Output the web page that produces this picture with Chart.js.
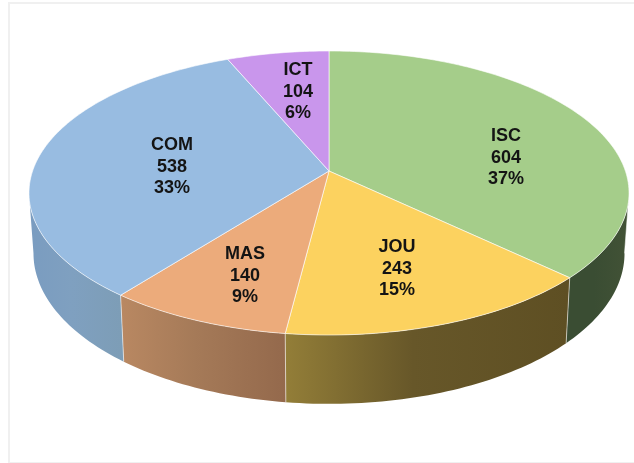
<!DOCTYPE html>
<html>
<head>
<meta charset="utf-8">
<title>Pie</title>
<script src="https://cdn.jsdelivr.net/npm/chart.js@4"></script>
<style>
    html, body { margin: 0; padding: 0; background: #fff; }
    #wrap { position: relative; width: 634px; height: 463px; overflow: hidden; }
    #frame { position: absolute; left: 8px; top: 2px; width: 640px; height: 458px; border: 2px solid #f0f0f0; box-sizing: content-box; }
    canvas { position: absolute; left: 0; top: 0; filter: blur(0.5px); }
</style>
</head>
<body>
<div id="wrap">
    <div id="frame"></div>
    <canvas id="pieChart" width="634" height="463"></canvas>
</div>
<script>
// Chart values
const categories = ['ISC', 'JOU', 'MAS', 'COM', 'ICT'];
const students = [604, 243, 140, 538, 104];

const topColors = ['#a5cd8a', '#fcd25f', '#ecab7b', '#98bce1', '#c996ec'];
const wallColors = [
    ['#3a4d33', '#3a4d33', '#425236'],
    ['#937e38', '#675729', '#5e4f23'],
    ['#b98862', '#a57a58', '#94694c'],
    ['#7a9cc0', '#7fa0c0', '#7d9db6'],
    ['#8a66a4', '#8a66a4', '#8a66a4']
];
// where each three line label sits
const labelSpots = [[506, 158], [397, 269], [245, 276], [172, 167], [298, 92]];

// Perspective of the tilted disc
const cx = 329, apexY = 171, tilt = -0.155, spanX = 296.4, spanY = 138.6;

function project(angle) {
    const u = Math.cos(angle), v = Math.sin(angle);
    const d = 1 + tilt * v;
    return { x: cx + spanX * u / d, y: apexY + spanY * v / d };
}

function lower(p) {
    return { x: cx + (p.x - cx) * 0.985, y: 230 + (p.y - apexY) * 1.06 };
}

// Samples along the rim between two angles
function rimPoints(start, end) {
    const steps = Math.max(2, Math.ceil((end - start) / 0.02));
    const pts = [];
    for (let i = 0; i <= steps; i++) {
        pts.push(project(start + (end - start) * i / steps));
    }
    return pts;
}

const disc3d = {
    id: 'disc3d',
    beforeDatasetDraw(chart) {
        const ctx = chart.ctx;
        const arcs = chart.getDatasetMeta(0).data;
        const frontStart = Math.asin(0.155), frontEnd = Math.PI - frontStart;

        // side walls first, the top face covers what is behind
        arcs.forEach((arc, i) => {
            const start = Math.max(arc.startAngle, frontStart);
            const end = Math.min(arc.endAngle, frontEnd);
            if (end <= start) return;
            const upper = rimPoints(start, end);
            const under = upper.map(lower);
            const xs = upper.concat(under).map(p => p.x);
            const left = Math.min(...xs), right = Math.max(...xs);
            const shade = ctx.createLinearGradient(left, 0, right, 0);
            shade.addColorStop(0, wallColors[i][0]);
            shade.addColorStop(0.45, wallColors[i][1]);
            shade.addColorStop(1, wallColors[i][2]);

            ctx.beginPath();
            upper.forEach((p, n) => n ? ctx.lineTo(p.x, p.y) : ctx.moveTo(p.x, p.y));
            under.reverse().forEach(p => ctx.lineTo(p.x, p.y));
            ctx.closePath();
            ctx.fillStyle = shade;
            ctx.fill();
            ctx.strokeStyle = 'rgba(255,255,255,0.55)';
            ctx.lineWidth = 1;
            ctx.beginPath();
            const a = upper[0], b = lower(a);
            ctx.moveTo(a.x, a.y);
            ctx.lineTo(b.x, b.y);
            ctx.stroke();
        });

        // top face
        arcs.forEach((arc, i) => {
            ctx.beginPath();
            ctx.moveTo(cx, apexY);
            rimPoints(arc.startAngle, arc.endAngle).forEach(p => ctx.lineTo(p.x, p.y));
            ctx.closePath();
            ctx.fillStyle = topColors[i];
            ctx.fill();
            ctx.strokeStyle = 'rgba(255,255,255,0.6)';
            ctx.lineWidth = 1;
            ctx.stroke();
        });
        return false;
    },
    afterDatasetsDraw(chart) {
        const ctx = chart.ctx;
        const total = students.reduce((sum, v) => sum + v, 0);
        ctx.font = 'bold 18px "Liberation Sans", Arial, sans-serif';
        ctx.fillStyle = '#141414';
        ctx.textAlign = 'center';
        ctx.textBaseline = 'middle';
        categories.forEach((name, i) => {
            const [x, y] = labelSpots[i];
            ctx.fillText(name, x, y - 21.5);
            ctx.fillText(String(students[i]), x, y);
            ctx.fillText(Math.round(students[i] / total * 100) + '%', x, y + 21.5);
        });
    }
};

new Chart(document.getElementById('pieChart').getContext('2d'), {
    type: 'pie',
    data: {
        labels: categories,
        datasets: [{ data: students, backgroundColor: topColors }]
    },
    options: {
        responsive: false,
        animation: false,
        plugins: {
            legend: { display: false },
            tooltip: { enabled: false }
        }
    },
    plugins: [disc3d]
});
</script>
</body>
</html>
